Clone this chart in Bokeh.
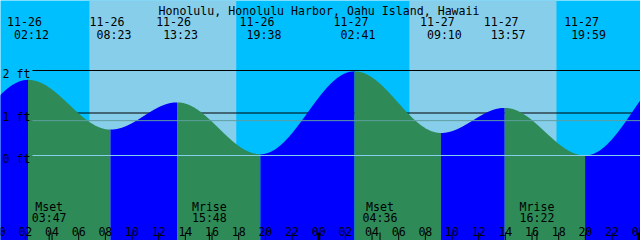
import numpy as np
from bokeh.plotting import figure
from bokeh.models import Range1d
from bokeh.core.properties import value
from bokeh.embed import file_html
from bokeh.resources import INLINE

# ---------------- data ----------------
title = "Honolulu, Honolulu Harbor, Oahu Island, Hawaii"
tide_dates = ["11-26", "11-26", "11-26", "11-26", "11-27", "11-27", "11-27", "11-27"]
tide_clock = ["02:12", "08:23", "13:23", "19:38", "02:41", "09:10", "13:57", "19:59"]
tide_ft = [1.78, 0.61, 1.25, 0.03, 1.98, 0.53, 1.12, 0.00]
# extremes just outside the visible window (curve continues off-edge)
prev_date, prev_clock, prev_ft = "11-25", "19:17", 0.05
next_date, next_clock, next_ft = "11-28", "03:10", 2.10

sun_rise = [("11-26", "06:48"), ("11-27", "06:48")]
sun_set = [("11-26", "17:49"), ("11-27", "17:50")]

moon_names = ["Mset", "Mrise", "Mset", "Mrise"]
moon_dates = ["11-26", "11-26", "11-27", "11-27"]
moon_clock = ["03:47", "15:48", "04:36", "16:22"]

level_ft = [2, 1, 0]
level_labels = ["2 ft", "1 ft", "0 ft"]
msl_ft = 0.82

hour_ticks = list(range(0, 49, 2))
hour_labels = ["%02d" % (h % 24) for h in hour_ticks]

# ---------------- helpers ----------------
DAY0 = {"11-25": -24, "11-26": 0, "11-27": 24, "11-28": 48}


def hrs(d, c):
    hh, mm = c.split(":")
    return DAY0[d] + int(hh) + int(mm) / 60.0


W, H = 640, 240
PX_HR = W / 48.0
X0 = 1.8 / PX_HR
PX_FT = 42.5
ZERO_PX = 155.0
Y_TOP = ZERO_PX / PX_FT
Y_BOT = -(H - ZERO_PX) / PX_FT


def fx(px):
    return X0 + px / PX_HR


def fy(py):
    return (ZERO_PX - py) / PX_FT


FONT = value("DejaVu Sans Mono")
FS = "11.6px"

NIGHT = "#00BFFF"
DAY = "#87CEEB"
FALL = "#2E8B57"
RISE = "#0000FF"

p = figure(width=W, height=H, output_backend="svg", toolbar_location=None,
           x_range=Range1d(X0, X0 + 48), y_range=Range1d(Y_BOT, Y_TOP),
           x_axis_location=None, y_axis_location=None, min_border=0,
           tools="")
p.grid.visible = False
p.outline_line_color = None
p.background_fill_color = NIGHT
p.border_fill_color = NIGHT

# day / night bands
rise_h = [hrs(d, c) for d, c in sun_rise]
set_h = [hrs(d, c) for d, c in sun_set]
p.quad(left=rise_h, right=set_h, bottom=Y_BOT - 1, top=Y_TOP + 1,
       fill_color=DAY, line_color=None)

# level lines behind the water
x_line0 = fx(32)
p.segment(x0=[x_line0] * 2, x1=[X0 + 49] * 2, y0=level_ft[:2], y1=level_ft[:2],
          line_color="black", line_width=1)

# tide curve (cosine between extremes)
ext_t = [hrs(prev_date, prev_clock)] + [hrs(d, c) for d, c in zip(tide_dates, tide_clock)] + [hrs(next_date, next_clock)]
ext_h = [prev_ft] + tide_ft + [next_ft]
for i in range(len(ext_t) - 1):
    t0, t1 = ext_t[i], ext_t[i + 1]
    h0, h1 = ext_h[i], ext_h[i + 1]
    t = np.linspace(t0, t1, 200)
    h = h0 + (h1 - h0) * (1 - np.cos(np.pi * (t - t0) / (t1 - t0))) / 2
    p.varea(x=t, y1=np.full_like(t, Y_BOT - 1), y2=h,
            fill_color=FALL if h1 < h0 else RISE)

# lines over the water
p.segment(x0=[x_line0], x1=[X0 + 49], y0=[msl_ft], y1=[msl_ft],
          line_color="#5F9EA0", line_width=1)
p.segment(x0=[x_line0], x1=[X0 + 49], y0=[0], y1=[0],
          line_color="#87CEEB", line_width=1)

# level labels
p.text(x=[fx(2)] * 3, y=[v - 3.5 / PX_FT for v in level_ft], text=level_labels,
       text_font=FONT, text_font_size=FS, text_color="black",
       text_align="left", text_baseline="alphabetic")

# title
p.text(x=[fx(318.5)], y=[fy(10)], text=[title], text_font=FONT,
       text_font_size=FS, text_color="black", text_align="center",
       text_baseline="alphabetic")

# tide extreme labels
tide_h = [hrs(d, c) for d, c in zip(tide_dates, tide_clock)]
p.text(x=tide_h, y=[fy(21)] * len(tide_h), text=tide_dates, x_offset=-21,
       text_font=FONT, text_font_size=FS, text_color="black",
       text_align="left", text_baseline="alphabetic")
p.text(x=tide_h, y=[fy(34)] * len(tide_h), text=tide_clock, x_offset=-14,
       text_font=FONT, text_font_size=FS, text_color="black",
       text_align="left", text_baseline="alphabetic")

# moon labels
moon_h = [hrs(d, c) for d, c in zip(moon_dates, moon_clock)]
p.text(x=moon_h, y=[fy(206)] * 4, text=moon_names, text_font=FONT,
       text_font_size=FS, text_color="black", text_align="center",
       text_baseline="alphabetic")
p.text(x=moon_h, y=[fy(217.5)] * 4, text=moon_clock, text_font=FONT,
       text_font_size=FS, text_color="black", text_align="center",
       text_baseline="alphabetic")

# hour axis labels and ticks
p.text(x=hour_ticks, y=[fy(230.7)] * len(hour_ticks), text=hour_labels,
       text_font=FONT, text_font_size=FS, text_color="black",
       text_align="center", text_baseline="alphabetic")
minor = [h for h in hour_ticks if h % 24 != 0]
major = [h for h in hour_ticks if h % 24 == 0]
p.segment(x0=minor, x1=minor, y0=[fy(232)] * len(minor), y1=[fy(241)] * len(minor),
          line_color="black", line_width=1)
p.segment(x0=major, x1=major, y0=[fy(232)] * len(major), y1=[fy(241)] * len(major),
          line_color="black", line_width=3)
p.segment(x0=moon_h, x1=moon_h, y0=[fy(232)] * 4, y1=[fy(241)] * 4,
          line_color="black", line_width=1)

open("out.html", "w").write(file_html(p, INLINE))
